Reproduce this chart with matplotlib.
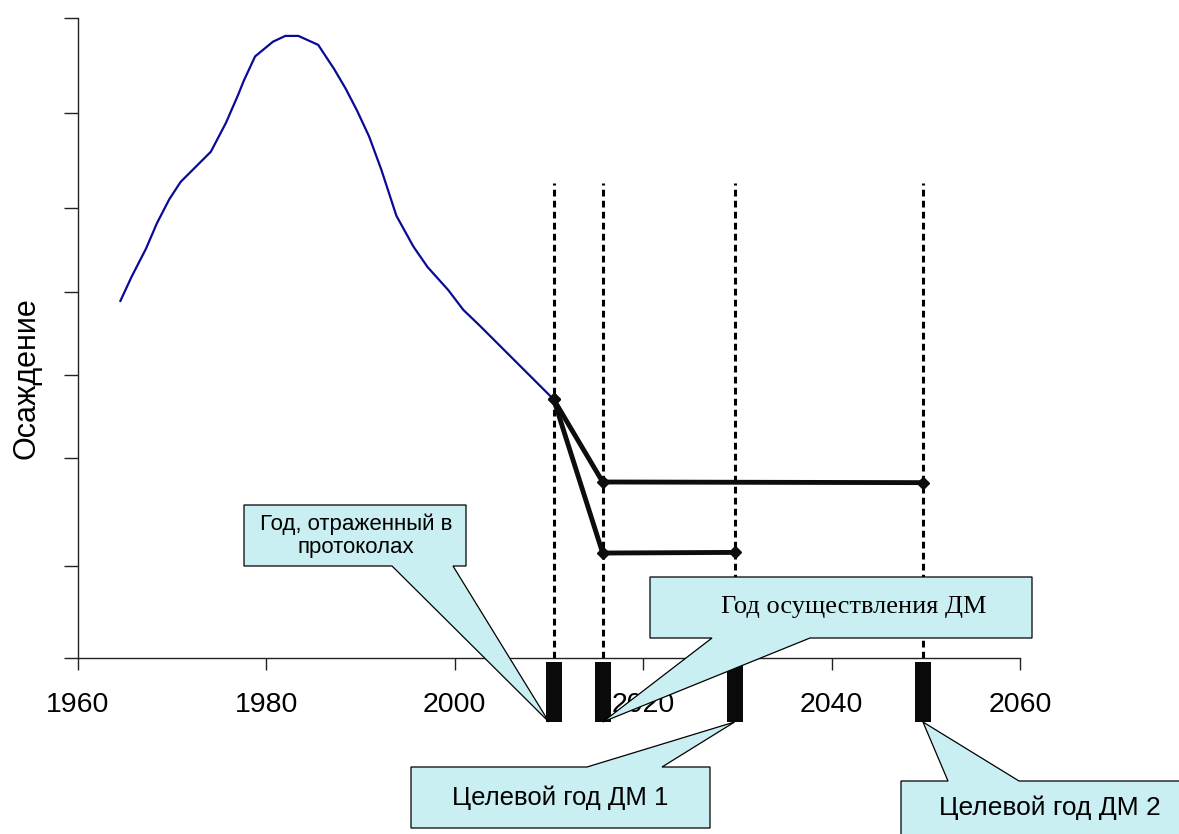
import matplotlib
matplotlib.use("Agg")
import matplotlib.pyplot as plt
from matplotlib.patches import Polygon

# ---------------- data ----------------
years_hist = [1964.5, 1965.7, 1967.2, 1968.4, 1969.7, 1970.9, 1974.1, 1975.7,
              1977.0, 1977.6, 1978.8, 1980.7, 1982.0, 1983.4, 1985.5, 1987.2,
              1988.4, 1989.6, 1990.9, 1992.2, 1993.8, 1995.6, 1997.1, 1999.3,
              2000.9, 2002.6, 2010.5]
dep_hist = [55.8, 59.6, 63.9, 68.0, 71.7, 74.4, 79.1, 83.6,
            88.0, 90.2, 94.0, 96.3, 97.2, 97.2, 95.8, 92.0,
            89.0, 85.6, 81.5, 76.3, 69.1, 64.3, 61.1, 57.5,
            54.4, 52.0, 40.4]

key_years = [2010.5, 2015.7, 2029.7, 2049.7]

scen2_years = [2010.5, 2015.7, 2049.7]
scen2_vals = [40.4, 27.5, 27.4]
scen1_years = [2010.5, 2015.7, 2029.7]
scen1_vals = [40.4, 16.4, 16.5]

x_ticks = [1960, 1980, 2000, 2020, 2040, 2060]
y_ticks = [0, 14.4, 31.25, 44.2, 57.2, 70.3, 85.2, 100]

label_protocol = "Год, отраженный в\nпротоколах"
label_impl = "Год осуществления ДМ"
label_t1 = "Целевой год ДМ 1"
label_t2 = "Целевой год ДМ 2"
ylabel = "Осаждение"

# ---------------- figure ----------------
W, H = 1179, 834
fig = plt.figure(figsize=(W / 100, H / 100), dpi=100)
ax = fig.add_axes([78 / W, (H - 658) / H, (1020 - 78) / W, 640 / H])
ax.set_xlim(1960, 2060)
ax.set_ylim(0, 100)

for s in ["top", "right"]:
    ax.spines[s].set_visible(False)
for s in ["left", "bottom"]:
    ax.spines[s].set_color("#222222")
    ax.spines[s].set_linewidth(1.0)

ax.set_xticks(x_ticks)
ax.set_xticklabels([str(t) for t in x_ticks], fontsize=20.5, family="Liberation Sans")
ax.set_yticks(y_ticks)
ax.set_yticklabels([])
ax.tick_params(axis="x", direction="out", length=12 * 0.72, width=1.0, pad=16, colors="#222222", labelcolor="black")
ax.tick_params(axis="y", direction="out", length=14 * 0.72, width=1.0, colors="#222222")

# dashed verticals
ax.vlines(key_years, 0, 74.2, colors="black", linestyles=(0, (2.2, 1.4)), linewidth=2.2, zorder=2)

# historical curve
ax.plot(years_hist, dep_hist, color="#0a0a96", linewidth=1.6, zorder=3)

# scenarios
ax.plot(scen2_years, scen2_vals, color="#0d0d0d", linewidth=3.5, marker="D", markersize=6.5, zorder=4)
ax.plot(scen1_years, scen1_vals, color="#0d0d0d", linewidth=3.5, marker="D", markersize=6.5, zorder=4)

# black bars below axis
ax.bar(key_years, -9.4, bottom=-0.6, width=1.7, color="#0a0a0a", clip_on=False, zorder=5)

fig.text(27 / W, 1 - 378 / H, ylabel, rotation=90, ha="center", va="center",
         fontsize=22, family="Liberation Sans")

# ---------------- callouts (pixel overlay) ----------------
ov = fig.add_axes([0, 0, 1, 1], zorder=10)
ov.set_xlim(0, W)
ov.set_ylim(H, 0)
ov.axis("off")
ov.patch.set_alpha(0)


def tip(year, val):
    xd, yd = ax.transData.transform((year, val))
    return (xd, H - yd)


fill = "#c9eff2"
bar_bottom = -10.0

t1 = tip(key_years[0] - 0.5, bar_bottom)
poly1 = [(244, 505), (466, 505), (466, 566), (453, 566), t1, (392, 566), (244, 566)]
t2 = tip(key_years[1], bar_bottom)
poly2 = [(650, 577), (1032, 577), (1032, 638), (810, 638), t2, (712, 638), (650, 638)]
t3 = tip(key_years[2], bar_bottom)
poly3 = [(411, 767), (587, 767), t3, (662, 767), (710, 767), (710, 828), (411, 828)]
t4 = tip(key_years[3], bar_bottom)
poly4 = [(901, 781), (948, 781), t4, (1019, 781), (1190, 781), (1190, 845), (901, 845)]

for p in [poly1, poly2, poly3, poly4]:
    ov.add_patch(Polygon(p, closed=True, facecolor=fill, edgecolor="black", linewidth=0.9, clip_on=False))

ov.text(356, 536, label_protocol, ha="center", va="center", fontsize=16,
        family="Liberation Sans", linespacing=1.15)
ov.text(854, 607, label_impl, ha="center", va="center", fontsize=19, family="Liberation Serif")
ov.text(560, 798, label_t1, ha="center", va="center", fontsize=18.5, family="Liberation Sans")
ov.text(1050, 808, label_t2, ha="center", va="center", fontsize=19, family="Liberation Sans")

fig.savefig("out.png", dpi=100)
